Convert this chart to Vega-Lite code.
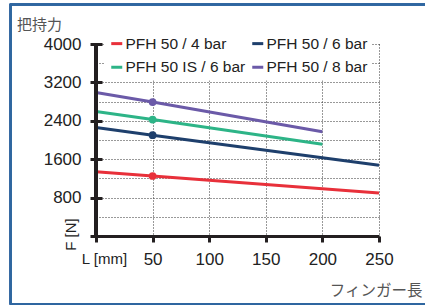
{
  "$schema": "https://vega.github.io/schema/vega-lite/v6.json",
  "autosize": {"type": "none"},
  "width": 283,
  "height": 192,
  "padding": {"left": 96, "top": 44, "right": 46, "bottom": 71},
  "background": "white",
  "title": {
    "text": "把持力",
    "anchor": "start",
    "frame": "group",
    "dx": -79,
    "dy": 45,
    "offset": 16,
    "font": "Noto Sans CJK JP",
    "fontSize": 15,
    "fontWeight": "normal",
    "color": "#555555"
  },
  "config": {
    "view": {"stroke": null},
    "axis": {
      "labelFont": "Liberation Sans",
      "labelFontSize": 17,
      "labelColor": "#222222",
      "gridColor": "#333333",
      "gridDash": [1, 2],
      "gridWidth": 1,
      "domainColor": "#231f20",
      "domainWidth": 3,
      "tickColor": "#231f20",
      "tickWidth": 3
    }
  },
  "data": {
    "values": [
      {"series": "PFH 50 / 4 bar", "L": 0, "F": 1340},
      {"series": "PFH 50 / 4 bar", "L": 50, "F": 1250},
      {"series": "PFH 50 / 4 bar", "L": 250, "F": 895},
      {"series": "PFH 50 / 6 bar", "L": 0, "F": 2260},
      {"series": "PFH 50 / 6 bar", "L": 50, "F": 2100},
      {"series": "PFH 50 / 6 bar", "L": 250, "F": 1475},
      {"series": "PFH 50 IS / 6 bar", "L": 0, "F": 2595},
      {"series": "PFH 50 IS / 6 bar", "L": 50, "F": 2425},
      {"series": "PFH 50 IS / 6 bar", "L": 200, "F": 1910},
      {"series": "PFH 50 / 8 bar", "L": 0, "F": 2990},
      {"series": "PFH 50 / 8 bar", "L": 50, "F": 2790},
      {"series": "PFH 50 / 8 bar", "L": 200, "F": 2170}
    ]
  },
  "layer": [
    {
      "mark": {"type": "line", "strokeWidth": 3},
      "encoding": {
        "x": {
          "field": "L", "type": "quantitative",
          "scale": {"domain": [0, 250], "nice": false, "zero": false},
          "axis": {
            "values": [0, 50, 100, 150, 200, 250],
            "tickCount": 20,
            "grid": true,
            "tickSize": 6,
            "labelPadding": 9,
            "labelOverlap": false,
            "labelFlush": false,
            "labelExpr": "datum.value == 0 ? 'L [mm]' : datum.label",
            "labelFontSize": {"condition": {"test": "datum.value == 0", "value": 15}, "value": 17},
            "labelOffset": {"condition": {"test": "datum.value == 0", "value": 8}, "value": 0},
            "title": "フィンガー長",
            "titleFont": "Noto Sans CJK JP",
            "titleFontSize": 15.5,
            "titleFontWeight": "normal",
            "titleColor": "#555555",
            "titleX": 326,
            "titleY": 54,
            "titleAlign": "right",
            "titleBaseline": "middle"
          }
        },
        "y": {
          "field": "F", "type": "quantitative",
          "scale": {"domain": [0, 4000], "nice": false, "zero": false},
          "axis": {
            "values": [0, 400, 800, 1200, 1600, 2000, 2400, 2800, 3200, 3600, 4000],
            "tickCount": 20,
            "grid": true,
            "domain": false,
            "offset": -6,
            "tickSize": 12,
            "tickColor": {"condition": {"test": "datum.value % 800 != 0", "value": "transparent"}, "value": "#231f20"},
            "labelPadding": 9,
            "labelOverlap": false,
            "labelFlush": false,
            "labelExpr": "datum.value % 800 == 0 && datum.value > 0 ? datum.label : ''",
            "format": "d",
            "title": "F [N]",
            "titleFont": "Liberation Sans",
            "titleFontSize": 15,
            "titleFontWeight": "normal",
            "titleColor": "#222222",
            "titleX": -32,
            "titleY": 190,
            "titleAngle": -90,
            "titleAlign": "center",
            "titleBaseline": "middle"
          }
        },
        "color": {
          "field": "series", "type": "nominal",
          "scale": {
            "domain": ["PFH 50 / 4 bar", "PFH 50 IS / 6 bar", "PFH 50 / 6 bar", "PFH 50 / 8 bar"],
            "range": ["#e8303a", "#2db487", "#1e3f6c", "#6b5aa8"]
          },
          "legend": {
            "title": null,
            "orient": "none",
            "legendX": 9,
            "legendY": -12.5,
            "columns": 2,
            "gridAlign": "all",
            "columnPadding": 0,
            "rowPadding": 7,
            "padding": 4,
            "fillColor": "white",
            "symbolType": "stroke",
            "symbolSize": 121,
            "symbolStrokeWidth": 3,
            "labelOffset": 1,
            "labelFont": "Liberation Sans",
            "labelFontSize": 15.5,
            "labelColor": "#222222",
            "labelLimit": 300
          }
        }
      }
    },
    {
      "mark": {"type": "rect", "fillOpacity": 0, "stroke": "#2f66a0", "strokeWidth": 1.5, "clip": false},
      "encoding": {
        "x": {"datum": -75.5, "type": "quantitative"},
        "x2": {"datum": 300},
        "y": {"datum": 4823, "type": "quantitative"},
        "y2": {"datum": -1414}
      }
    },
    {
      "mark": {"type": "rule", "color": "#231f20", "strokeWidth": 3},
      "encoding": {
        "x": {"datum": 0, "type": "quantitative"}
      }
    },
    {
      "transform": [{"filter": "datum.L == 50"}],
      "mark": {"type": "point", "filled": true, "opacity": 1, "size": 60, "shape": "circle"},
      "encoding": {
        "x": {"field": "L", "type": "quantitative"},
        "y": {"field": "F", "type": "quantitative"},
        "color": {"field": "series", "type": "nominal"}
      }
    }
  ]
}
